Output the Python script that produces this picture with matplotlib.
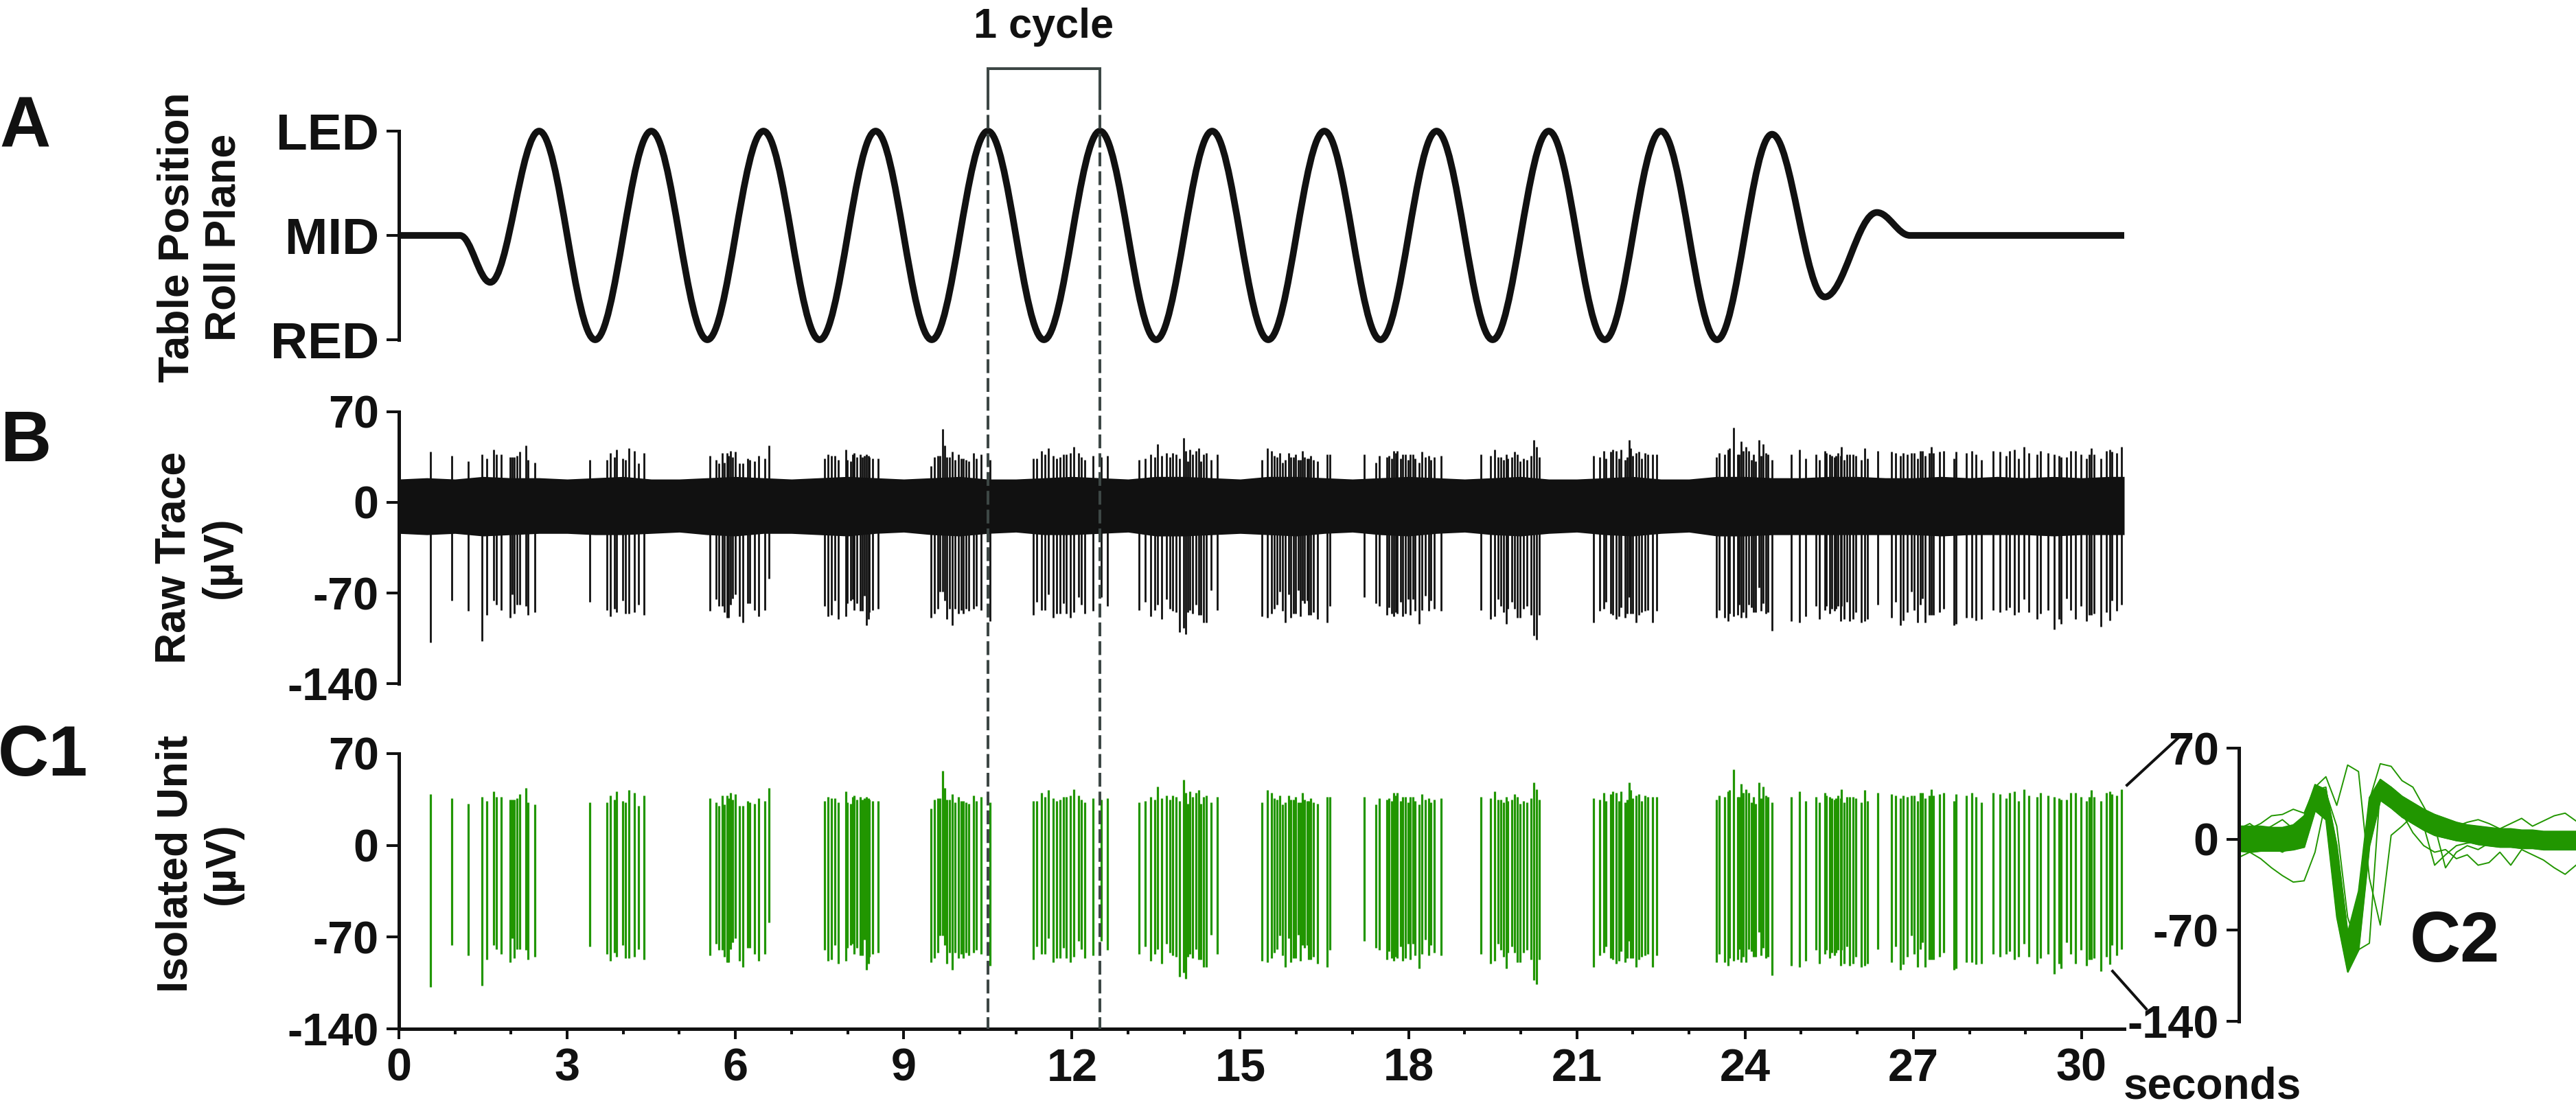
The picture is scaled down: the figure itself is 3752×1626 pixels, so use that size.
import matplotlib
matplotlib.use("Agg")
import matplotlib.pyplot as plt
from matplotlib.path import Path
from matplotlib.patches import PathPatch
from matplotlib.lines import Line2D
from matplotlib.transforms import blended_transform_factory
from matplotlib.ticker import MultipleLocator

# ---------------- data ----------------
# A: table position, turning points of the roll (LED = 1, MID = 0, RED = -1)
pos_t = [0, 1.09, 1.63, 2.50, 3.50, 4.50, 5.50, 6.50, 7.50, 8.50, 9.50, 10.50, 11.50,
         12.50, 13.50, 14.50, 15.50, 16.50, 17.50, 18.50, 19.50, 20.50, 21.50, 22.50,
         23.50, 24.48, 25.42, 26.35, 26.94, 30.76]
pos_v = [0, 0, -0.45, 1, -1, 1, -1, 1, -1, 1, -1, 1, -1,
         1, -1, 1, -1, 1, -1, 1, -1, 1, -1, 1,
         -1, 0.97, -0.59, 0.22, 0, 0]
pos_ticks = [1, 0, -1]
pos_labels = ["LED", "MID", "RED"]

# B: envelope of the background noise of the raw trace (uV)
noise_t = [0, 0.5, 1, 1.5, 2, 2.5, 3, 3.5, 4, 4.5, 5, 5.5, 6, 6.5, 7, 7.5, 8, 8.5, 9, 9.5,
           10, 10.5, 11, 11.5, 12, 12.5, 13, 13.5, 14, 14.5, 15, 15.5, 16, 16.5, 17, 17.5,
           18, 18.5, 19, 19.5, 20, 20.5, 21, 21.5, 22, 22.5, 23, 23.5, 24, 24.5, 25, 25.5,
           26, 26.5, 27, 27.5, 28, 28.5, 29, 29.5, 30, 30.5, 30.76]
noise_hi = [18, 19, 18, 20, 19, 19, 18, 19, 20, 18, 18, 19, 20, 19, 18, 19, 20, 19, 18, 19,
            20, 18, 18, 19, 20, 19, 18, 20, 20, 19, 18, 20, 20, 19, 18, 19,
            20, 19, 18, 19, 20, 18, 18, 19, 20, 18, 18, 20, 20, 19, 19, 20,
            20, 19, 19, 20, 19, 20, 19, 20, 19, 20, 20]
noise_lo = [-24, -25, -24, -26, -25, -24, -24, -25, -25, -24, -23, -25, -26, -24, -24, -25, -26, -24, -23, -25,
            -26, -24, -23, -25, -25, -24, -23, -26, -26, -25, -24, -25, -26, -24, -23, -25,
            -26, -24, -23, -25, -26, -24, -23, -25, -26, -24, -23, -26, -26, -25, -25, -25,
            -25, -25, -25, -26, -25, -25, -25, -26, -25, -25, -25]

# B / C1: spikes of the isolated unit (time s, positive peak uV, negative peak uV)
spike_t = [
    0.56, 0.94, 1.24, 1.48, 1.57, 1.69, 1.74, 1.82, 1.98, 2.02, 2.06, 2.11, 2.16, 2.27, 2.30, 2.42,
    3.40, 3.71, 3.77, 3.84, 3.88, 3.99, 4.04, 4.10, 4.20, 4.27, 4.37,
    5.55, 5.65, 5.70, 5.76, 5.80, 5.85, 5.88, 5.91, 5.95, 6.00, 6.07, 6.13, 6.22, 6.25, 6.34, 6.41, 6.52, 6.60,
    7.59, 7.65, 7.71, 7.77, 7.83, 7.97, 7.99, 8.05, 8.09, 8.12, 8.17, 8.22, 8.26, 8.30, 8.33, 8.37, 8.39, 8.44, 8.54,
    9.49, 9.55, 9.61, 9.65, 9.69, 9.73, 9.77, 9.82, 9.87, 9.92, 9.97, 10.02, 10.06, 10.11, 10.16, 10.24, 10.29, 10.38, 10.54,
    11.31, 11.37, 11.46, 11.52, 11.58, 11.67, 11.73, 11.79, 11.85, 11.90, 11.97, 12.03, 12.12, 12.17, 12.23, 12.37, 12.52, 12.63,
    13.19, 13.30, 13.40, 13.48, 13.53, 13.60, 13.68, 13.74, 13.80, 13.85, 13.92, 13.99, 14.03, 14.06, 14.10, 14.15, 14.21, 14.26, 14.30, 14.35, 14.40, 14.48, 14.59,
    15.39, 15.49, 15.56, 15.61, 15.65, 15.70, 15.75, 15.80, 15.86, 15.90, 15.95, 15.99, 16.03, 16.07, 16.11, 16.15, 16.19, 16.22, 16.26, 16.31, 16.38, 16.55, 16.60,
    17.21, 17.42, 17.48, 17.61, 17.65, 17.70, 17.74, 17.77, 17.80, 17.86, 17.90, 17.95, 17.99, 18.03, 18.08, 18.11, 18.19, 18.24, 18.30, 18.36, 18.40, 18.46, 18.58,
    19.29, 19.46, 19.53, 19.60, 19.64, 19.69, 19.74, 19.77, 19.84, 19.89, 19.94, 19.99, 20.05, 20.11, 20.19, 20.23, 20.28, 20.33,
    21.30, 21.41, 21.48, 21.52, 21.61, 21.64, 21.70, 21.75, 21.79, 21.86, 21.90, 21.93, 21.96, 22.00, 22.06, 22.11, 22.15, 22.22, 22.27, 22.35, 22.42,
    23.49, 23.54, 23.63, 23.70, 23.72, 23.79, 23.87, 23.89, 23.93, 23.97, 24.01, 24.07, 24.11, 24.15, 24.19, 24.25, 24.28, 24.32, 24.37, 24.41, 24.48,
    24.82, 24.97, 25.08, 25.26, 25.32, 25.42, 25.45, 25.51, 25.55, 25.59, 25.62, 25.66, 25.70, 25.72, 25.76,
    25.81, 25.86, 25.92, 25.98, 26.07, 26.13, 26.18, 26.36, 26.61, 26.69, 26.77, 26.82, 26.89, 26.97, 27.02,
    27.08, 27.13, 27.16, 27.21, 27.28, 27.32, 27.36, 27.47, 27.54, 27.72, 27.76, 27.95, 28.04, 28.12, 28.22,
    28.42, 28.55, 28.65, 28.71, 28.80, 28.87, 28.97, 29.06, 29.20, 29.27, 29.40, 29.51, 29.60, 29.63, 29.73,
    29.80, 29.89, 29.99, 30.09, 30.13, 30.17, 30.22, 30.34, 30.44, 30.50, 30.54, 30.63, 30.71,
]
spike_top = [
    39, 36, 32, 37, 34, 41, 37, 37, 35, 35, 35, 36, 39, 44, 33, 31,
    33, 33, 38, 35, 41, 34, 33, 42, 40, 30, 38,
    36, 33, 30, 38, 31, 38, 36, 40, 35, 39, 30, 30, 34, 33, 32, 36, 34, 44,
    34, 37, 36, 36, 33, 41, 33, 32, 37, 38, 35, 37, 35, 36, 37, 36, 35, 34, 34,
    28, 35, 36, 36, 57, 44, 35, 35, 39, 33, 37, 34, 34, 33, 32, 38, 34, 37, 33,
    34, 34, 40, 37, 42, 36, 34, 35, 37, 37, 38, 43, 38, 35, 33, 36, 35, 36,
    33, 34, 37, 35, 45, 36, 38, 35, 38, 37, 34, 50, 40, 32, 41, 37, 40, 42, 32, 37, 38, 33, 37,
    33, 42, 40, 36, 35, 38, 31, 33, 38, 35, 35, 37, 33, 33, 40, 35, 34, 34, 36, 33, 32, 37, 37,
    37, 31, 36, 35, 36, 34, 40, 38, 40, 34, 37, 37, 33, 37, 37, 34, 31, 39, 35, 36, 33, 35, 36,
    37, 36, 41, 35, 35, 33, 37, 34, 35, 39, 37, 32, 34, 33, 36, 48, 43, 35,
    36, 35, 40, 34, 39, 41, 40, 34, 41, 33, 35, 48, 42, 36, 38, 39, 34, 38, 37, 37, 37,
    35, 38, 37, 41, 42, 58, 37, 37, 47, 40, 43, 40, 33, 37, 32, 48, 36, 45, 38, 37, 33,
    37, 41, 34, 37, 33, 40, 38, 37, 36, 35, 36, 38, 36, 43, 33,
    37, 37, 37, 36, 33, 42, 34, 40, 39, 38, 36, 38, 37, 38, 38,
    34, 40, 40, 36, 38, 43, 38, 39, 40, 34, 39, 38, 40, 37, 33,
    40, 39, 36, 40, 41, 34, 43, 38, 37, 40, 38, 37, 36, 35, 35,
    40, 40, 37, 34, 37, 42, 37, 34, 40, 41, 39, 38, 43,
]
spike_bot = [
    -108, -76, -84, -107, -87, -76, -79, -83, -89, -71, -86, -79, -79, -80, -87, -85,
    -77, -83, -88, -82, -85, -76, -86, -86, -85, -79, -87,
    -84, -75, -80, -80, -85, -89, -89, -79, -74, -71, -88, -93, -78, -78, -83, -88, -83, -59,
    -80, -88, -87, -76, -90, -88, -78, -76, -75, -83, -78, -84, -84, -72, -95, -90, -85, -83, -82,
    -89, -86, -82, -69, -69, -76, -90, -82, -95, -82, -86, -83, -86, -82, -84, -82, -80, -83, -92,
    -87, -77, -83, -83, -71, -89, -86, -86, -78, -86, -89, -85, -73, -79, -86, -84, -73, -80,
    -83, -77, -88, -83, -79, -90, -75, -82, -84, -85, -100, -97, -102, -85, -83, -86, -79, -87, -87, -93, -93, -68, -83,
    -88, -89, -86, -82, -79, -69, -84, -93, -71, -89, -86, -86, -68, -88, -76, -78, -76, -87, -87, -85, -90, -93, -80,
    -73, -78, -80, -87, -81, -86, -88, -85, -86, -77, -88, -86, -75, -87, -75, -84, -94, -83, -72, -84, -76, -82, -84,
    -83, -90, -88, -75, -80, -85, -94, -82, -77, -82, -89, -89, -82, -80, -87, -103, -106, -87,
    -93, -84, -82, -77, -86, -87, -90, -88, -81, -89, -86, -73, -86, -86, -93, -87, -85, -84, -83, -93, -84,
    -89, -83, -89, -92, -86, -88, -87, -79, -89, -85, -89, -79, -81, -85, -85, -66, -84, -78, -86, -85, -99,
    -92, -93, -88, -80, -90, -83, -80, -86, -82, -84, -82, -80, -92, -80, -90,
    -77, -92, -90, -85, -93, -92, -90, -79, -89, -77, -95, -91, -85, -69, -83,
    -93, -79, -74, -93, -87, -87, -87, -85, -82, -95, -94, -89, -89, -91, -90,
    -83, -85, -83, -81, -87, -85, -75, -85, -90, -86, -83, -98, -90, -94, -74,
    -83, -90, -80, -92, -87, -87, -86, -96, -85, -91, -76, -84, -79,
]
uv_ticks = [70, 0, -70, -140]
time_ticks = [0, 3, 6, 9, 12, 15, 18, 21, 24, 27, 30]
cycle_start, cycle_end = 10.5, 12.5

# C2: overlaid spike waveforms, by sample
wave_x = list(range(32))
wave_hi = [10, 10, 10, 9, 9, 11, 18, 42, 38, -5, -72, -40, 32, 46, 40, 33,
           28, 23, 19, 16, 13, 11, 10, 9, 8, 8, 7, 7, 6, 6, 6, 6]
wave_lo = [-9, -10, -9, -9, -9, -8, -6, 22, 15, -60, -102, -85, -5, 30, 24, 17,
           12, 7, 3, 1, -1, -2, -4, -5, -6, -6, -7, -7, -8, -8, -8, -8]
wave_odd = [
    [5, 8, 12, 18, 19, 23, 20, 40, 48, 26, 57, 52, -30, -66, 3, 10, 18, 10, 5, 3, 0, -2, 4, 2, -3, -1, 0, 2, -2, -4, -1, 0],
    [-14, -10, -15, -22, -28, -33, -32, -10, 30, -35, -92, -60, 25, 40, 32, 25, 18, 10, -20, -12, -5, -3, -2, 0, -4, -2, -5, -3, -1, -2, -4, -3],
    [2, -3, 0, 4, 2, 0, 5, 35, 38, -40, -95, -55, 30, 58, 56, 45, 40, 25, 10, -22, -10, -5, -8, -3, 0, 2, -2, 0, 3, -1, 0, 2],
    [-5, -8, -3, -6, -10, -5, -2, 30, 35, -30, -90, -70, 10, 35, 30, 20, 5, -5, -10, -8, -15, -12, -20, -18, -10, -20, -8, -12, -16, -22, -27, -20],
    [8, 12, 6, 10, 15, 8, 12, 38, 40, -25, -80, -50, 25, 42, 35, 28, 22, 15, 12, 10, 10, 13, 15, 12, 8, 12, 16, 10, 14, 18, 20, 14],
    [0, 2, -2, 0, -4, -2, 5, 30, 36, 10, -60, -85, -80, 40, 36, 28, 20, 12, 8, 5, 3, 0, -2, 0, -3, -5, -2, 0, -4, -6, -3, -5],
]

# ---------------- drawing ----------------
INK = "#111111"
GREEN = "#219600"
DASH = "#3d4745"
NARROW = ["Liberation Sans Narrow", "Liberation Sans", "DejaVu Sans"]
WIDE = ["Liberation Sans", "DejaVu Sans"]

W, H, DPI = 3752, 1626, 100
fig = plt.figure(figsize=(W / DPI, H / DPI), dpi=DPI)


def ax_px(x0, y0, x1, y1):
    return fig.add_axes([x0 / W, 1 - y1 / H, (x1 - x0) / W, (y1 - y0) / H])


def left_axis(ax, ticks, labels, size):
    for s in ("top", "right", "bottom"):
        ax.spines[s].set_visible(False)
    ax.spines["left"].set_linewidth(3.6)
    ax.spines["left"].set_color(INK)
    ax.set_yticks(ticks)
    ax.set_yticklabels(labels, family=NARROW, weight="bold", fontsize=size, color=INK)
    ax.tick_params(axis="y", length=13, width=2.9, pad=8, color=INK)
    ax.set_xticks([])
    ax.patch.set_visible(False)


def roll_path(ts, vs, k=0.364):
    verts = [(ts[0], vs[0])]
    codes = [Path.MOVETO]
    for i in range(1, len(ts)):
        dt = ts[i] - ts[i - 1]
        verts += [(ts[i - 1] + k * dt, vs[i - 1]), (ts[i] - k * dt, vs[i]), (ts[i], vs[i])]
        codes += [Path.CURVE4] * 3
    return Path(verts, codes)


T_END = 30.76

# A
ax_a = ax_px(581, 191, 3094, 495)
ax_a.set_xlim(0, T_END)
ax_a.set_ylim(-1, 1)
ax_a.add_patch(PathPatch(roll_path(pos_t, pos_v), fill=False, lw=7, ec=INK,
                         joinstyle="round", capstyle="butt", clip_on=False))
left_axis(ax_a, pos_ticks, pos_labels, 54)

# B
ax_b = ax_px(581, 600, 3094, 996)
ax_b.set_xlim(0, T_END)
ax_b.set_ylim(-140, 70)
ax_b.fill_between(noise_t, noise_lo, noise_hi, color=INK, lw=0)
ax_b.vlines(spike_t, spike_bot, spike_top, color=INK, lw=2.0)
left_axis(ax_b, uv_ticks, [str(v) for v in uv_ticks], 48)

# C1
ax_c = ax_px(581, 1098, 3094, 1499)
ax_c.set_xlim(0, T_END)
ax_c.set_ylim(-140, 70)
ax_c.vlines(spike_t, spike_bot, spike_top, color=GREEN, lw=2.3)
left_axis(ax_c, uv_ticks, [str(v) for v in uv_ticks], 48)
ax_c.spines["bottom"].set_visible(True)
ax_c.spines["bottom"].set_linewidth(3.6)
ax_c.spines["bottom"].set_color(INK)
ax_c.set_xticks(time_ticks)
ax_c.set_xticklabels([str(t) for t in time_ticks], family=NARROW, weight="bold",
                     fontsize=48, color=INK)
ax_c.xaxis.set_minor_locator(MultipleLocator(1))
ax_c.tick_params(axis="x", which="major", length=11, width=2.9, pad=9, color=INK)
ax_c.tick_params(axis="x", which="minor", length=5.5, width=2.9, color=INK)

# C2
ax_d = ax_px(3261, 1090, W, 1488)
ax_d.set_xlim(wave_x[0], wave_x[-1])
ax_d.set_ylim(-140, 70)
ax_d.fill_between(wave_x, wave_lo, wave_hi, color=GREEN, lw=1.2)
ax_d.plot(wave_x, wave_hi, color=GREEN, lw=1.4)
ax_d.plot(wave_x, wave_lo, color=GREEN, lw=1.4)
for w in wave_odd:
    ax_d.plot(wave_x, w, color=GREEN, lw=1.4)
left_axis(ax_d, uv_ticks, [str(v) for v in uv_ticks], 48)

# "1 cycle" bracket and dashed guides
bt = blended_transform_factory(ax_c.transData, fig.transFigure)
y_box, y_solid, y_low = 1 - 100 / H, 1 - 140 / H, 1 - 1499 / H
fig.add_artist(Line2D([cycle_start, cycle_end], [y_box, y_box], transform=bt,
                      color=DASH, lw=2.9))
for t in (cycle_start, cycle_end):
    fig.add_artist(Line2D([t, t], [y_box, y_solid], transform=bt, color=DASH, lw=2.9))
    fig.add_artist(Line2D([t, t], [y_solid, y_low], transform=bt, color=DASH, lw=2.9,
                          linestyle=(0, (5, 1.8)), zorder=5))
fig.text((cycle_start + cycle_end) / 2, 1 - 55 / H, "1 cycle", transform=bt,
         ha="center", va="baseline", family=WIDE, weight="bold", fontsize=44, color=INK)

# zoom lines from C1 to C2
fig.add_artist(Line2D([3098 / W, 3176 / W], [1 - 1144 / H, 1 - 1072 / H], color=INK, lw=2.9))
fig.add_artist(Line2D([3077 / W, 3126 / W], [1 - 1415 / H, 1 - 1470 / H], color=INK, lw=2.9))

# labels
fig.text(3093 / W, 1 - 1600 / H, "seconds", ha="left", va="baseline", family=WIDE,
         weight="bold", fontsize=46, color=INK)
ylabels = [(292, 346, "Table Position\nRoll Plane"), (287, 812, "Raw Trace\n(µV)"),
           (290, 1258, "Isolated Unit\n(µV)")]
for x, y, s in ylabels:
    fig.text(x / W, 1 - y / H, s, rotation=90, ha="center", va="center", multialignment="center",
             family=WIDE, weight="bold", fontsize=45, color=INK)
letters = [(37, 187, "A"), (37, 645, "B"), (62, 1103, "C1"), (3575, 1374, "C2")]
for x, y, s in letters:
    fig.text(x / W, 1 - y / H, s, ha="center", va="center", family=WIDE,
             weight="bold", fontsize=74, color=INK)

fig.savefig("out.png", dpi=DPI, facecolor="white")
